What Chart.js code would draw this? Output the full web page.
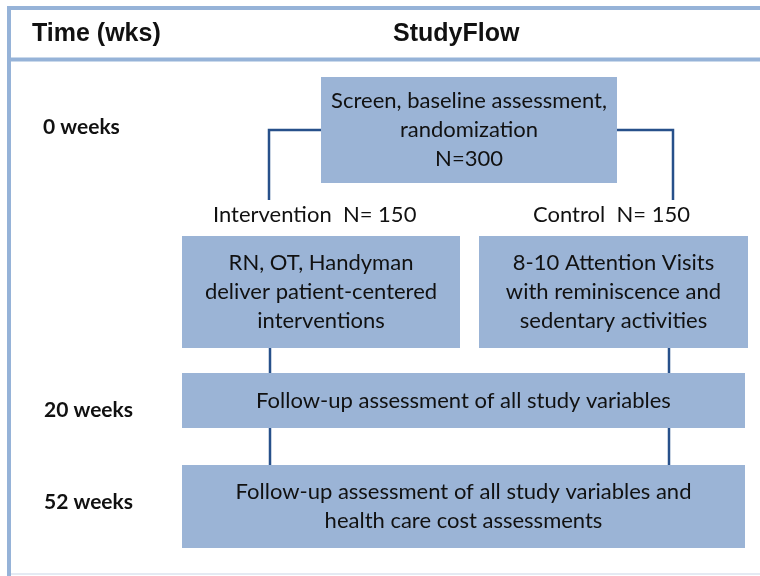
<!DOCTYPE html>
<html>
<head>
<meta charset="utf-8">
<script src="https://cdn.jsdelivr.net/npm/chart.js@4"></script>
<style>
  html, body { margin: 0; padding: 0; background: #fff; }
  #wrap { width: 760px; height: 576px; }
</style>
</head>
<body>
<div id="wrap"><canvas id="flow" width="760" height="576"></canvas></div>
<script>
// layout space: x 0..760, y 0..576 (top down)
const boxLeft   = [321, 182, 479, 182, 182];
const boxRight  = [617, 460, 748, 745, 745];
const boxTop    = [77, 236, 236, 373, 465];
const boxBottom = [183, 348, 348, 428, 548];
const boxText = [
  ['Screen, baseline assessment,', 'randomization', 'N=300'],
  ['RN, OT, Handyman', 'deliver patient-centered', 'interventions'],
  ['8-10 Attention Visits', 'with reminiscence and', 'sedentary activities'],
  ['Follow-up assessment of all study variables'],
  ['Follow-up assessment of all study variables and', 'health care cost assessments'],
];

const connectors = [
  [[321, 130], [269, 130], [269, 200]],
  [[617, 130], [673, 130], [673, 200]],
  [[270, 348], [270, 373]],
  [[669, 348], [669, 373]],
  [[270, 428], [270, 465]],
  [[669, 428], [669, 465]],
];

const frameLines = [
  [[9, 8], [760, 8]],
  [[9, 59.5], [760, 59.5]],
  [[9, 6], [9, 576]],
];
const bottomLine = [[9, 574], [760, 574]];

const labelText = ['0 weeks', '20 weeks', '52 weeks', 'Intervention  N= 150', 'Control  N= 150'];
const labelX    = [43, 44, 44, 213, 533];
const labelY    = [127, 410, 502, 215, 215];

const headText = ['Time (wks)', 'StudyFlow'];
const headX    = [32, 393];
const headY    = [34, 34];

const C = {
  box:   '#9bb4d6',
  frame: '#96b3d8',
  faint: '#e4eaf3',
  line:  '#27508a',
  text:  '#111111',
};

const toPts = arr => arr.map(p => ({ x: p[0], y: p[1] }));

const datasets = [
  ...frameLines.map(l => ({
    data: toPts(l), showLine: true, borderColor: C.frame, borderWidth: 4,
    pointRadius: 0, fill: false,
  })),
  {
    data: toPts(bottomLine), showLine: true, borderColor: C.faint, borderWidth: 2,
    pointRadius: 0, fill: false,
  },
  ...connectors.map(l => ({
    data: toPts(l), showLine: true, borderColor: C.line, borderWidth: 2.5,
    pointRadius: 0, fill: false, borderJoinStyle: 'miter',
  })),
];

// boxes and texts drawn through the chart scales
const flowPlugin = {
  id: 'flow',
  beforeDatasetsDraw(chart) {
    const { ctx, scales: { x, y } } = chart;
    ctx.save();
    ctx.fillStyle = C.box;
    boxLeft.forEach((l, i) => {
      const x0 = x.getPixelForValue(l), x1 = x.getPixelForValue(boxRight[i]);
      const y0 = y.getPixelForValue(boxTop[i]), y1 = y.getPixelForValue(boxBottom[i]);
      ctx.fillRect(x0, y0, x1 - x0, y1 - y0);
    });
    ctx.restore();
  },
  afterDatasetsDraw(chart) {
    const { ctx, scales: { x, y } } = chart;
    ctx.save();
    ctx.fillStyle = C.text;
    ctx.textBaseline = 'middle';

    ctx.font = '22px Lato';
    ctx.textAlign = 'center';
    const lh = 29;
    boxText.forEach((lines, i) => {
      const cx = x.getPixelForValue((boxLeft[i] + boxRight[i]) / 2);
      const cy = y.getPixelForValue((boxTop[i] + boxBottom[i]) / 2);
      const start = cy - (lines.length - 1) * lh / 2;
      lines.forEach((t, j) => ctx.fillText(t, cx, start + j * lh));
    });

    ctx.textAlign = 'left';
    labelText.forEach((t, i) => {
      ctx.font = i < 3 ? 'bold 21px Lato' : '22px Lato';
      ctx.fillText(t, x.getPixelForValue(labelX[i]), y.getPixelForValue(labelY[i]));
    });

    ctx.font = 'bold 25px "Liberation Sans"';
    headText.forEach((t, i) => {
      ctx.fillText(t, x.getPixelForValue(headX[i]), y.getPixelForValue(headY[i]));
    });
    ctx.restore();
  }
};

new Chart(document.getElementById('flow'), {
  type: 'scatter',
  data: { datasets },
  options: {
    responsive: false,
    animation: false,
    layout: { padding: 0 },
    plugins: { legend: { display: false }, tooltip: { enabled: false } },
    scales: {
      x: { type: 'linear', min: 0, max: 760, display: false },
      y: { type: 'linear', min: 0, max: 576, reverse: true, display: false },
    },
  },
  plugins: [flowPlugin],
});
</script>
</body>
</html>
